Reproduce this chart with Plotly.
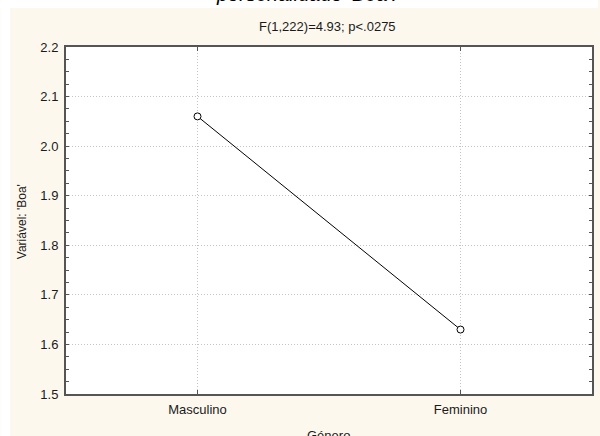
import plotly.graph_objects as go

# Mean score of the 'Boa' personality variable by gender
categories = ["Masculino", "Feminino"]
means = [2.06, 1.63]
y_ticks = [1.5, 1.6, 1.7, 1.8, 1.9, 2.0, 2.1, 2.2]

W, H = 600, 436
L, R, T, B = 66, 6, 47, 42
pw, ph = W - L - R, H - T - B


def px_x(x):
    return (x - L) / pw


def px_y(y):
    return 1 - (y - T) / ph


font = "Liberation Sans, Arial, sans-serif"
cream = "#fdf8ee"
frame = "#555555"
text_col = "#1a1a1a"
grid = "#c4c4c4"

fig = go.Figure()
fig.add_trace(go.Scatter(
    x=categories, y=means, mode="lines+markers",
    line=dict(color="black", width=1),
    marker=dict(symbol="circle", size=7, color="white",
                line=dict(color="black", width=1)),
    cliponaxis=False, showlegend=False,
))

fig.update_layout(
    width=W, height=H,
    margin=dict(l=L, r=R, t=T, b=B),
    paper_bgcolor=cream, plot_bgcolor="white",
    font=dict(family=font, size=13, color=text_col),
    xaxis=dict(
        type="category", range=[-0.5, 1.5],
        showline=True, linecolor=frame, linewidth=2, mirror="allticks",
        ticks="inside", ticklen=4, tickcolor=frame,
        showgrid=True, gridcolor=grid, griddash="1px,2px", gridwidth=1,
        tickfont=dict(size=13, color=text_col), ticklabelstandoff=2,
        zeroline=False,
    ),
    yaxis=dict(
        range=[1.5, 2.2], tickvals=y_ticks, tickformat=".1f",
        showline=True, linecolor=frame, linewidth=2, mirror="allticks",
        ticks="inside", ticklen=3, tickcolor=frame,
        minor=dict(dtick=0.025, ticks="inside", ticklen=3, tickcolor=frame,
                   showgrid=False),
        showgrid=True, gridcolor=grid, griddash="1px,2px", gridwidth=1,
        tickfont=dict(size=13, color=text_col), ticklabelstandoff=3,
        zeroline=False,
    ),
    shapes=[
        # white page strip above and left of the cream panel
        dict(type="rect", xref="paper", yref="paper", layer="below",
             x0=px_x(0), x1=px_x(W), y0=px_y(8), y1=px_y(0),
             fillcolor="white", line=dict(width=0)),
        dict(type="rect", xref="paper", yref="paper", layer="below",
             x0=px_x(0), x1=px_x(10), y0=px_y(H), y1=px_y(0),
             fillcolor="white", line=dict(width=0)),
    ],
    annotations=[
        dict(text="personalidade 'Boa'.", xref="paper", yref="paper",
             x=px_x(307), y=px_y(7), xanchor="center", yanchor="bottom",
             showarrow=False,
             font=dict(family=font, size=20, style="italic", color="black")),
        dict(text="F(1,222)=4.93; p<.0275", xref="paper", yref="paper",
             x=px_x(328), y=px_y(26), xanchor="center", yanchor="middle",
             showarrow=False, font=dict(family=font, size=13, color=text_col)),
        dict(text="Variável: 'Boa'", xref="paper", yref="paper",
             x=px_x(22), y=px_y(222), xanchor="center", yanchor="middle",
             textangle=-90, showarrow=False,
             font=dict(family=font, size=12, color=text_col)),
        dict(text="Género", xref="paper", yref="paper",
             x=px_x(329), y=px_y(436), xanchor="center", yanchor="middle",
             showarrow=False, font=dict(family=font, size=13, color=text_col)),
    ],
)

fig.write_html("out.html")
